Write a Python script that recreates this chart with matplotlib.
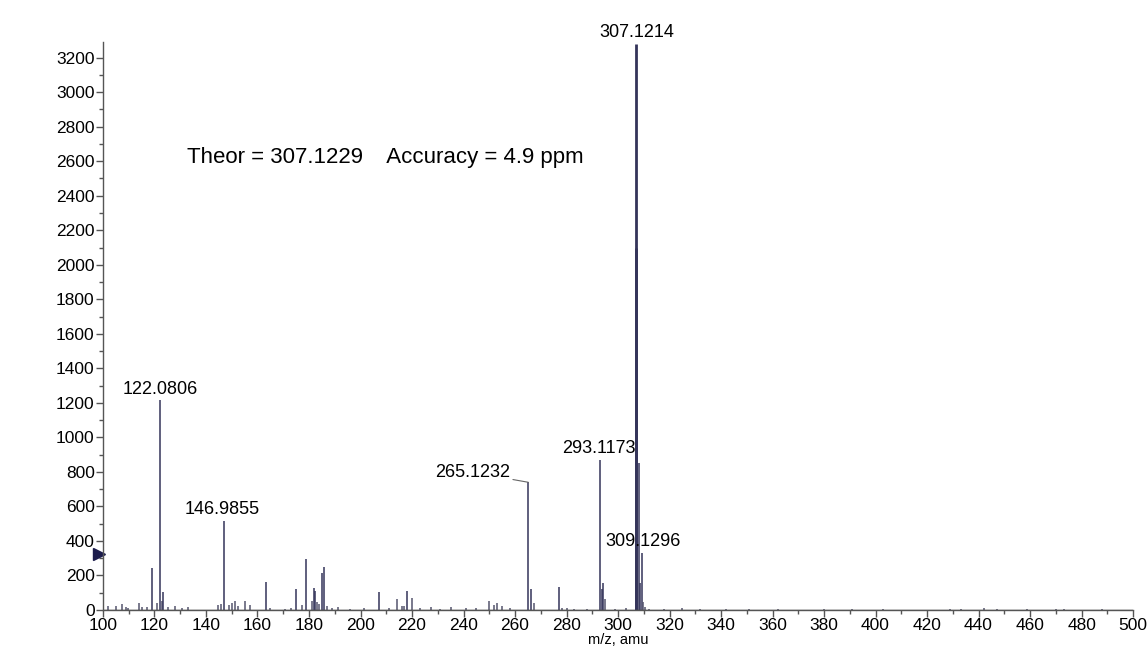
import numpy as np
import matplotlib.pyplot as plt
from matplotlib.transforms import blended_transform_factory, offset_copy

plt.rcParams['font.family'] = ['Liberation Sans', 'DejaVu Sans']

# centroided spectrum: m/z and intensity (counts)
mz = [102.1, 105.0, 107.2, 108.8, 109.7, 114.1, 115.0, 117.0, 118.9, 121.1,
      122.08, 122.8, 123.4, 125.1, 128.0, 130.8, 132.9, 144.8, 145.8, 146.99,
      148.9, 150.0, 151.3, 152.5, 155.1, 157.1, 163.2, 164.9, 170.5, 173.0,
      175.0, 177.2, 179.0, 181.0, 181.9, 182.5, 183.1, 184.0, 185.2, 185.9,
      187.1, 189.0, 191.1, 196.0, 201.5, 207.1, 211.0, 214.1, 216.1, 216.9,
      218.1, 220.0, 223.0, 227.4, 231.0, 235.0, 241.0, 245.0, 250.0, 251.8,
      253.1, 255.1, 258.0, 265.12, 266.1, 267.3, 277.1, 278.4, 280.1, 283.0,
      288.0, 293.12, 293.6, 294.3, 295.1, 299.0, 303.0, 306.9, 307.12, 308.1,
      308.7, 309.13, 309.8, 310.5, 312.0, 318.0, 325.0, 332.0, 342.0, 351.0,
      362.0, 380.0, 391.0, 403.0, 429.0, 433.0, 442.0, 447.0, 459.0, 470.0,
      473.0, 488.0]
intensity = [25, 22, 35, 20, 12, 40, 20, 20, 243, 40,
             1215, 52, 104, 20, 25, 10, 20, 30, 35, 515,
             30, 40, 50, 25, 55, 30, 160, 12, 8, 10,
             121, 30, 295, 55, 127, 112, 45, 35, 216, 250,
             25, 10, 15, 8, 10, 104, 12, 64, 25, 25,
             110, 70, 12, 15, 8, 15, 10, 12, 52, 30,
             40, 25, 10, 740, 121, 40, 133, 12, 10, 8,
             6, 868, 120, 156, 64, 8, 10, 2100, 3280, 850,
             158, 332, 48, 20, 8, 6, 12, 6, 8, 5,
             5, 5, 6, 5, 6, 8, 10, 5, 4, 8,
             8, 4]

# labelled peaks: m/z of the bar, label text, label offset in points
peak_labels = [
    (307.12, '307.1214', (0, 2)),
    (122.08, '122.0806', (0, 2)),
    (146.99, '146.9855', (-1, 2)),
    (265.12, '265.1232', (-13, 1)),
    (293.12, '293.1173', (-1, 2)),
    (309.13, '309.1296', (1, 2)),
]

theor_text = 'Theor = 307.1229    Accuracy = 4.9 ppm'
theor_pos = (132.6, 2620)
threshold_level = 324

bar_color = '#34345a'

fig = plt.figure(figsize=(11.48, 6.49), dpi=100)
ax = fig.add_axes([0.0897, 0.0601, 0.8973, 0.875])

for m, h in zip(mz, intensity):
    lw = 2.0 if h > 2000 else 1.1
    col = bar_color if h > 100 else '#55556e'
    ax.vlines(m, 0, h, color=col, linewidth=lw)

ax.axhline(0, color='#444444', linewidth=1)

lookup = dict(zip(mz, intensity))
for m, text, (dx, dy) in peak_labels:
    h = lookup[m]
    if dx < -5:
        ax.annotate(text, xy=(m, h), xytext=(dx, dy), textcoords='offset points',
                    ha='right', va='bottom', fontsize=13,
                    arrowprops=dict(arrowstyle='-', color='#666666', lw=0.8,
                                    shrinkA=0, shrinkB=0))
    else:
        ax.annotate(text, xy=(m, h), xytext=(dx, dy), textcoords='offset points',
                    ha='center', va='bottom', fontsize=13)

ax.text(theor_pos[0], theor_pos[1], theor_text, fontsize=16, ha='left', va='center')

# threshold marker on the y axis
tr = offset_copy(blended_transform_factory(ax.transAxes, ax.transData),
                 fig=fig, x=-3.5, y=0, units='dots')
ax.plot([0], [threshold_level], marker='>', markersize=9, color='#1c1c4c',
        transform=tr, clip_on=False)

ax.set_xlim(100, 500)
ax.set_ylim(0, 3290)
ax.set_xticks(np.arange(100, 501, 20))
ax.set_xticks(np.arange(100, 501, 10), minor=True)
ax.set_yticks(np.arange(0, 3201, 200))
ax.set_yticks(np.arange(0, 3201, 100), minor=True)
ax.tick_params(axis='both', which='major', length=5, width=1, color='#555555',
               labelsize=12.5, pad=1)
ax.tick_params(axis='both', which='minor', length=3, width=1, color='#555555')

for side in ['top', 'right']:
    ax.spines[side].set_visible(False)
for side in ['left', 'bottom']:
    ax.spines[side].set_color('#555555')
    ax.spines[side].set_linewidth(1)

ax.set_xlabel('m/z, amu', fontsize=10.5, labelpad=0)

fig.savefig('out.png', dpi=100)
